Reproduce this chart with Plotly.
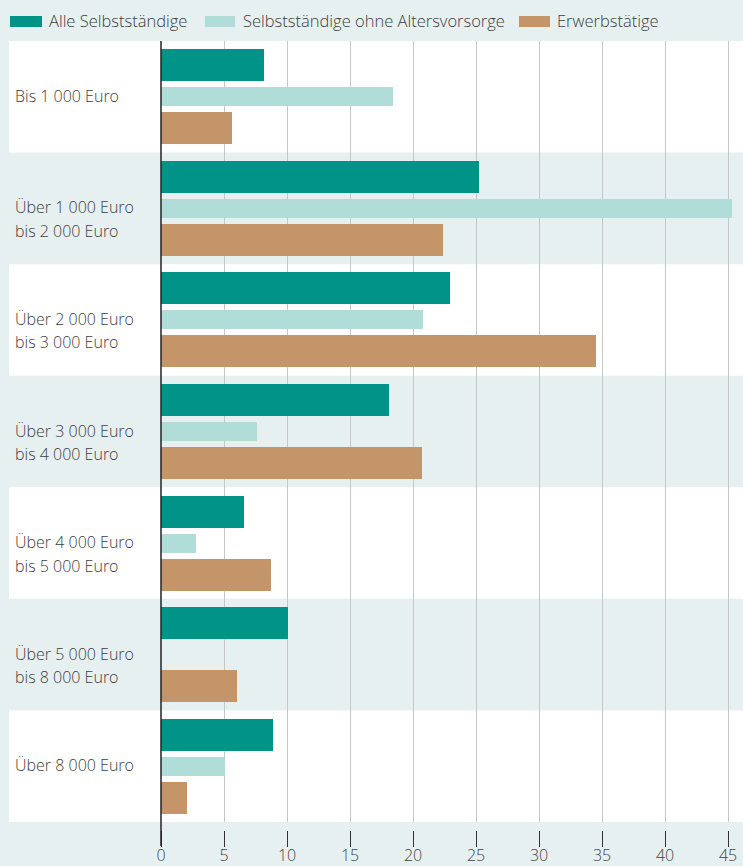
import plotly.graph_objects as go

categories = [
    "Bis 1 000 Euro",
    "Über 1 000 Euro<br>bis 2 000 Euro",
    "Über 2 000 Euro<br>bis 3 000 Euro",
    "Über 3 000 Euro<br>bis 4 000 Euro",
    "Über 4 000 Euro<br>bis 5 000 Euro",
    "Über 5 000 Euro<br>bis 8 000 Euro",
    "Über 8 000 Euro",
]
alle_selbststaendige = [8.2, 25.2, 22.9, 18.1, 6.6, 10.1, 8.9]
ohne_altersvorsorge = [18.4, 45.3, 20.8, 7.6, 2.8, 0.0, 5.1]
erwerbstaetige = [5.6, 22.4, 34.5, 20.7, 8.7, 6.0, 2.1]
series_names = ["Alle Selbstständige", "Selbstständige ohne Altersvorsorge", "Erwerbstätige"]
tick_values = [0, 5, 10, 15, 20, 25, 30, 35, 40, 45]

COLORS = ["#009388", "#b1ddd8", "#c49568"]
BG = "#e7f0f1"
TEXT = "#3d3d3d"
FONT = "Open Sans"
WEIGHT = 300

W, H = 743, 866
ML, MR, MT, MB = 161, 0, 41, 36
PW, PH = W - ML - MR, H - MT - MB
XMAX = PW / 12.6
ROW_PX = 781 / 7
EXTRA = (PH - 781) / ROW_PX
Y0 = 6.5 + EXTRA  # bottom of range (reversed)
YSPAN = Y0 + 0.5

def py(v):
    return (Y0 - v) / YSPAN

def px_to_paper_y(p):
    return (H - MB - p) / PH

def px_to_paper_x(p):
    return (p - ML) / PW

ypos = list(range(len(categories)))
thick, thin, off = 32 / ROW_PX, 19 / ROW_PX, 31.5 / ROW_PX

fig = go.Figure()
specs = [
    (alle_selbststaendige, -off - thick / 2, thick),
    (ohne_altersvorsorge, -thin / 2, thin),
    (erwerbstaetige, off - thick / 2, thick),
]
for (vals, o, w), name, c in zip(specs, series_names, COLORS):
    fig.add_trace(go.Bar(
        x=vals, y=ypos, orientation="h", name=name,
        marker=dict(color=c, line=dict(width=0)),
        width=[w] * len(vals), offset=[o] * len(vals),
        showlegend=False, hoverinfo="x",
    ))

shapes = []
# white rows
for i in range(0, len(categories), 2):
    shapes.append(dict(type="rect", xref="paper", yref="paper",
                       x0=px_to_paper_x(9), x1=1, y0=py(i + 0.5), y1=py(i - 0.5),
                       fillcolor="white", line=dict(width=0), layer="below"))
# gap between rows and ticks
shapes.append(dict(type="rect", xref="paper", yref="paper", x0=0, x1=1,
                   y0=0, y1=py(6.5), fillcolor=BG, line=dict(width=0), layer="above"))
# zero line
shapes.append(dict(type="line", xref="paper", yref="paper", x0=0, x1=0,
                   y0=1, y1=px_to_paper_y(846), line=dict(color="#222222", width=1.5),
                   layer="above"))

annotations = []
for i, cat in enumerate(categories):
    for k, line in enumerate(cat.split("<br>")):
        annotations.append(dict(xref="paper", yref="y", x=px_to_paper_x(13), y=i,
                                xanchor="left", yanchor="middle", align="left",
                                yshift=1 - 23.5 * k,
                                text=line, showarrow=False,
                                font=dict(family=FONT, size=16, color=TEXT, weight=WEIGHT)))

# custom legend
legend_x = [(10, 42, 47), (205, 235, 241), (519, 550, 555)]
for (sx0, sx1, tx), name, c in zip(legend_x, series_names, COLORS):
    shapes.append(dict(type="rect", xref="paper", yref="paper",
                       x0=px_to_paper_x(sx0), x1=px_to_paper_x(sx1),
                       y0=px_to_paper_y(27), y1=px_to_paper_y(16),
                       fillcolor=c, line=dict(width=0)))
    annotations.append(dict(xref="paper", yref="paper", x=px_to_paper_x(tx),
                            y=px_to_paper_y(21), xanchor="left", yanchor="middle",
                            text=name, showarrow=False,
                            font=dict(family=FONT, size=16.5, color=TEXT, weight=WEIGHT)))

fig.update_layout(
    width=W, height=H,
    margin=dict(l=ML, r=MR, t=MT, b=MB, pad=0, autoexpand=False),
    paper_bgcolor=BG, plot_bgcolor="rgba(0,0,0,0)",
    barmode="overlay", bargap=0,
    shapes=shapes, annotations=annotations,
    showlegend=False,
    font=dict(family=FONT, color=TEXT, weight=WEIGHT),
    xaxis=dict(range=[0, XMAX], tickvals=tick_values, showgrid=True, automargin=False,
               gridcolor="#c3c7c8", gridwidth=1, zeroline=False, showline=False,
               ticks="outside", ticklen=16, tickcolor="#333333", tickwidth=1.3,
               ticklabelstandoff=-5,
               tickfont=dict(family=FONT, size=16, color="#444444", weight=WEIGHT),
               fixedrange=True),
    yaxis=dict(range=[Y0, -0.5], showticklabels=False, showgrid=False, automargin=False,
               zeroline=False, showline=False, fixedrange=True),
)

fig.write_html("out.html", config={"displayModeBar": False},
               post_script="document.body.style.margin='0';document.body.style.overflow='hidden';")
